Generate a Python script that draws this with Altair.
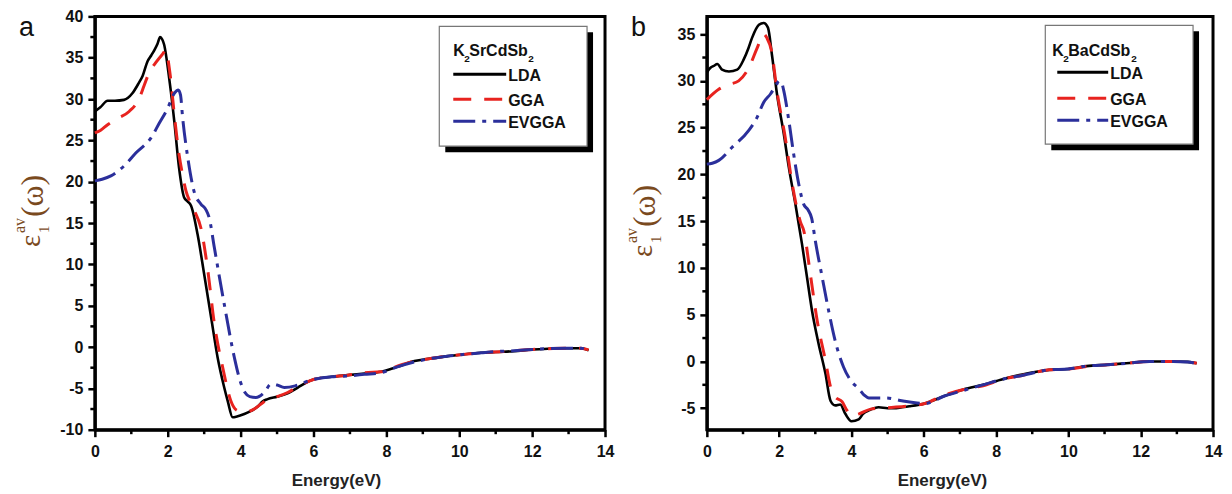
import altair as alt
import pandas as pd

# ---------------- data ----------------
# Panel a : K2SrCdSb2
a_lda_e = [0.00, 0.15, 0.35, 0.55, 0.80, 1.03, 1.20, 1.31, 1.45, 1.55, 1.63, 1.72, 1.79, 1.85, 1.90, 2.04, 2.18,
           2.31, 2.45, 2.55, 2.64, 2.82, 3.00, 3.19, 3.37, 3.55, 3.65, 3.78, 3.90, 4.10, 4.30, 4.47, 4.60, 4.74,
           5.00, 5.29, 5.57, 5.80, 6.02, 6.50, 6.94, 7.40, 7.85, 8.30, 8.77, 9.20, 9.68, 10.10, 10.60, 11.00,
           11.50, 12.00, 12.43, 12.90, 13.34, 13.55]
a_lda_v = [28.5, 29.0, 29.8, 29.8, 29.9, 30.7, 31.9, 32.8, 34.6, 35.3, 35.9, 36.7, 37.5, 37.2, 36.6, 32.5, 27.3,
           21.7, 18.1, 17.6, 17.1, 13.6, 8.8, 3.6, -1.3, -4.9, -6.6, -8.5, -8.4, -8.1, -7.7, -7.2, -6.6, -6.3,
           -6.0, -5.6, -4.9, -4.3, -3.9, -3.6, -3.4, -3.2, -3.0, -2.4, -1.7, -1.4, -1.1, -0.9, -0.7, -0.6,
           -0.5, -0.3, -0.2, -0.15, -0.15, -0.4]

a_gga_e = [0.00, 0.15, 0.35, 0.60, 0.94, 1.22, 1.35, 1.49, 1.67, 1.85, 1.95, 2.05, 2.20, 2.31, 2.40, 2.50, 2.62,
           2.73, 2.91, 3.09, 3.28, 3.51, 3.73, 3.92, 4.10, 4.28, 4.56, 4.74, 5.00, 5.29, 5.57, 6.02, 6.50, 6.94,
           7.40, 7.85, 8.30, 8.77, 9.20, 9.68, 10.10, 10.60, 11.00, 11.50, 12.00, 12.43, 12.90, 13.34, 13.55]
a_gga_v = [25.9, 26.2, 26.9, 27.6, 28.5, 30.1, 31.6, 33.2, 34.4, 35.4, 35.9, 33.5, 27.3, 23.3, 21.0, 18.9, 17.5,
           16.5, 14.4, 9.6, 2.8, -2.5, -6.5, -7.7, -7.8, -7.7, -6.9, -6.3, -6.0, -5.5, -4.8, -3.9, -3.6, -3.4,
           -3.1, -3.0, -2.3, -1.7, -1.4, -1.1, -0.9, -0.7, -0.6, -0.45, -0.3, -0.2, -0.15, -0.15, -0.35]

a_ev_e = [0.00, 0.20, 0.44, 0.80, 1.13, 1.54, 1.77, 2.00, 2.18, 2.29, 2.35, 2.41, 2.55, 2.73, 2.91, 3.05, 3.14,
          3.28, 3.55, 3.83, 3.98, 4.12, 4.25, 4.42, 4.65, 4.83, 5.00, 5.20, 5.50, 5.80, 6.02, 6.50, 6.94, 7.40,
          7.85, 8.30, 8.77, 9.20, 9.68, 10.10, 10.60, 11.00, 11.50, 12.00, 12.43, 12.90, 13.34, 13.55]
a_ev_v = [20.1, 20.3, 20.7, 21.9, 23.5, 25.3, 27.1, 28.9, 30.7, 31.1, 30.5, 27.7, 22.9, 18.7, 17.3, 16.6, 15.6,
          12.0, 5.2, -1.3, -4.0, -5.5, -6.0, -6.1, -5.5, -4.5, -4.6, -4.9, -4.7, -4.2, -3.9, -3.6, -3.5, -3.3,
          -3.1, -2.4, -1.8, -1.4, -1.1, -0.9, -0.7, -0.55, -0.45, -0.3, -0.2, -0.15, -0.15, -0.35]

# Panel b : K2BaCdSb2
b_lda_e = [0.00, 0.10, 0.19, 0.29, 0.42, 0.61, 0.84, 1.02, 1.15, 1.25, 1.44, 1.57, 1.69, 1.80, 1.94, 2.13, 2.27,
           2.45, 2.63, 2.77, 2.91, 3.09, 3.28, 3.42, 3.55, 3.69, 3.83, 4.00, 4.20, 4.32, 4.50, 4.75, 5.00, 5.17,
           5.40, 5.60, 6.03, 6.57, 7.10, 7.64, 8.18, 8.72, 9.47, 10.00, 10.50, 11.08, 11.60, 12.26, 12.90,
           13.30, 13.55]
b_lda_v = [30.9, 31.4, 31.6, 31.8, 31.2, 31.0, 31.2, 32.3, 33.5, 34.6, 36.0, 36.2, 35.7, 32.8, 28.6, 24.3, 20.7,
           16.8, 12.6, 9.0, 5.4, 1.9, -1.3, -4.2, -4.7, -4.6, -5.6, -6.4, -6.2, -5.6, -5.2, -4.9, -5.0, -5.0,
           -4.9, -4.8, -4.5, -3.7, -3.0, -2.5, -1.9, -1.4, -0.9, -0.8, -0.5, -0.35, -0.2, 0.0, 0.0,
           -0.05, -0.2]

b_gga_e = [0.00, 0.33, 0.60, 0.88, 1.16, 1.39, 1.57, 1.66, 1.79, 1.94, 2.17, 2.36, 2.59, 2.68, 2.86, 3.05, 3.28,
           3.42, 3.55, 3.74, 3.87, 4.00, 4.21, 4.53, 4.80, 5.17, 5.60, 6.03, 6.57, 7.10, 7.64, 8.18, 8.72, 9.47,
           10.00, 10.50, 11.08, 11.60, 12.26, 12.90, 13.30, 13.55]
b_gga_v = [28.0, 29.1, 29.6, 30.0, 31.4, 33.5, 35.0, 34.6, 33.2, 28.9, 23.9, 19.0, 14.9, 14.0, 9.4, 4.4, 0.1,
           -2.7, -3.8, -4.3, -5.2, -5.8, -5.6, -5.1, -5.0, -4.9, -4.75, -4.5, -3.6, -3.0, -2.6, -1.9, -1.5, -0.9,
           -0.8, -0.55, -0.35, -0.2, 0.0, 0.0, -0.05, -0.2]

b_ev_e = [0.00, 0.15, 0.33, 0.70, 1.16, 1.39, 1.57, 1.76, 1.91, 2.00, 2.07, 2.13, 2.27, 2.40, 2.54, 2.68, 2.80,
          2.90, 3.00, 3.19, 3.37, 3.55, 3.78, 4.01, 4.20, 4.35, 4.48, 4.96, 5.39, 5.71, 6.03, 6.57, 7.10, 7.64,
          8.18, 8.72, 9.47, 10.00, 10.50, 11.08, 11.60, 12.26, 12.90, 13.30, 13.55]
b_ev_v = [21.1, 21.2, 21.5, 22.9, 24.7, 26.1, 27.7, 28.6, 29.5, 30.0, 29.8, 28.9, 25.7, 22.2, 19.0, 16.8, 16.2,
          15.3, 12.9, 9.0, 5.4, 2.2, -0.6, -2.2, -2.9, -3.6, -3.9, -3.9, -4.2, -4.4, -4.5, -3.7, -3.1, -2.5,
          -1.9, -1.5, -0.9, -0.8, -0.5, -0.35, -0.2, 0.0, 0.0, -0.05, -0.25]

series_names = ["LDA", "GGA", "EVGGA"]
series_colors = ["#000000", "#e8231f", "#2b2f9b"]
x_major = [0, 2, 4, 6, 8, 10, 12, 14]
x_minor = [1, 3, 5, 7, 9, 11, 13]
a_y_major = [-10, -5, 0, 5, 10, 15, 20, 25, 30, 35, 40]
a_y_minor = [-7.5, -2.5, 2.5, 7.5, 12.5, 17.5, 22.5, 27.5, 32.5, 37.5]
b_y_major = [-5, 0, 5, 10, 15, 20, 25, 30, 35]
b_y_minor = [-2.5, 2.5, 7.5, 12.5, 17.5, 22.5, 27.5, 32.5]
panel_titles = [("K", "SrCdSb"), ("K", "BaCdSb")]

# ---------------- styling ----------------
LABEL_FONT = "Liberation Sans"
SERIF = "Liberation Serif"
TITLE_COLOR = "#7a4a1e"
DASHES = [None, [18, 13], [22, 7, 4, 7]]
WIDTHS = [2.6, 3.0, 3.0]

one = pd.DataFrame({"k": [0]})


def make_panel(series, ydomain, ymajor, yminor, W, H, letter, title_parts, leg, ytitle_dy, xtitle_x):
    xs = alt.Scale(domain=[0, 14], nice=False, zero=False)
    ys = alt.Scale(domain=ydomain, nice=False, zero=False)
    common = dict(title=None, grid=False, tickSize=7, labelFont=LABEL_FONT, labelFontWeight="bold",
                  labelFontSize=16, labelColor="#111", labelOverlap=False, labelFlush=False,
                  domainColor="black", domainWidth=3, tickColor="black", tickWidth=2.5,
                  labelExpr="'' + datum.value")
    x_axis = alt.Axis(values=x_major, labelPadding=7, **common)
    y_axis = alt.Axis(values=ymajor, labelPadding=5, **common)
    layers = []
    for i, (E, V) in enumerate(series):
        df = pd.DataFrame({"E": E, "v": V})
        kw = dict(color=series_colors[i], strokeWidth=WIDTHS[i], interpolate="monotone")
        if DASHES[i]:
            kw["strokeDash"] = DASHES[i]
        layers.append(alt.Chart(df).mark_line(**kw).encode(
            x=alt.X("E:Q", scale=xs, axis=x_axis),
            y=alt.Y("v:Q", scale=ys, axis=y_axis)))

    # minor ticks (outside the frame)
    layers.append(alt.Chart(pd.DataFrame({"E": x_minor})).mark_rule(color="black", strokeWidth=2.5).encode(
        x=alt.X("E:Q", scale=xs, axis=x_axis), y=alt.value(H), y2=alt.value(H + 4.5)))
    layers.append(alt.Chart(pd.DataFrame({"v": yminor})).mark_rule(color="black", strokeWidth=2.5).encode(
        y=alt.Y("v:Q", scale=ys, axis=y_axis), x=alt.value(0), x2=alt.value(-4.5)))

    base = alt.Chart(one)
    # legend box with shadow
    bx0, bx1, by0, by1 = leg["box"]
    layers.append(base.mark_rect(fill="black").encode(
        x=alt.value(bx0 + 6), x2=alt.value(bx1 + 6), y=alt.value(by0 + 6), y2=alt.value(by1 + 6)))
    layers.append(base.mark_rect(fill="white", stroke="#777", strokeWidth=1.2).encode(
        x=alt.value(bx0), x2=alt.value(bx1), y=alt.value(by0), y2=alt.value(by1)))
    # legend title with subscripts
    tx, tb = leg["title"]
    big = dict(font=LABEL_FONT, fontWeight="bold", fontSize=16, align="left", baseline="alphabetic", color="#111")
    sub = dict(font=LABEL_FONT, fontWeight="bold", fontSize=10, align="left", baseline="alphabetic", color="#111")
    layers.append(base.mark_text(text=title_parts[0], **big).encode(x=alt.value(tx), y=alt.value(tb)))
    layers.append(base.mark_text(text="2", **sub).encode(x=alt.value(tx + 11), y=alt.value(tb + 6)))
    layers.append(base.mark_text(text=title_parts[1], **big).encode(x=alt.value(tx + 16), y=alt.value(tb)))
    layers.append(base.mark_text(text="2", **sub).encode(x=alt.value(leg["sub2"]), y=alt.value(tb + 6)))
    # legend entries
    lx0, lx1 = leg["line"]
    for i, ly in enumerate(leg["rows"]):
        kw = dict(color=series_colors[i], strokeWidth=3)
        if DASHES[i]:
            kw["strokeDash"] = DASHES[i]
        layers.append(base.mark_rule(**kw).encode(x=alt.value(lx0), x2=alt.value(lx1), y=alt.value(ly)))
        layers.append(base.mark_text(text=series_names[i], font=LABEL_FONT, fontWeight="bold", fontSize=16,
                                     align="left", baseline="middle", color="#111").encode(
            x=alt.value(lx1 + 2), y=alt.value(ly + 2)))
    # panel letter
    layers.append(base.mark_text(text=letter, font=LABEL_FONT, fontSize=27, align="left",
                                 baseline="alphabetic", color="#111").encode(x=alt.value(-76), y=alt.value(20)))
    # x title
    layers.append(base.mark_text(text="Energy(eV)", font=LABEL_FONT, fontWeight="bold", fontSize=17,
                                 align="center", baseline="middle", color="#222").encode(
        x=alt.value(xtitle_x), y=alt.value(465)))
    # y title  eps_1^av(omega), rotated
    d = ytitle_dy
    rot = dict(angle=270, align="left", baseline="alphabetic", font=SERIF, color=TITLE_COLOR)
    layers.append(base.mark_text(text="\u03b5", fontSize=29, **rot).encode(x=alt.value(-55), y=alt.value(231 + d)))
    layers.append(base.mark_text(text="1", fontSize=15, **rot).encode(x=alt.value(-46), y=alt.value(217 + d)))
    layers.append(base.mark_text(text="av", fontSize=16, **rot).encode(x=alt.value(-70), y=alt.value(217 + d)))
    layers.append(base.mark_text(text="(\u03c9)", fontSize=32, **rot).encode(x=alt.value(-52), y=alt.value(201 + d)))

    return alt.layer(*layers).properties(width=W, height=H)


pa = make_panel([(a_lda_e, a_lda_v), (a_gga_e, a_gga_v), (a_ev_e, a_ev_v)], [-10, 40], a_y_major, a_y_minor,
                511, 414, "a", panel_titles[0],
                {"box": (345, 493, 10, 130), "title": (359, 40), "sub2": 434, "line": (359, 412),
                 "rows": [58, 83, 105]}, 0, 242)
pb = make_panel([(b_lda_e, b_lda_v), (b_gga_e, b_gga_v), (b_ev_e, b_ev_v)], [-7.3, 36.9], b_y_major, b_y_minor,
                507, 414, "b", panel_titles[1],
                {"box": (339, 487, 9, 128), "title": (346, 40), "sub2": 425, "line": (351, 402),
                 "rows": [56, 82, 104]}, 10, 236)

chart = alt.hconcat(pa, pb, spacing=102, bounds="flush").configure_view(
    stroke="black", strokeWidth=3).properties(padding={"left": 2, "top": -2, "right": 0, "bottom": 0},
                                              background="white")

chart.save("out.html", embed_options={"renderer": "svg", "actions": False})
